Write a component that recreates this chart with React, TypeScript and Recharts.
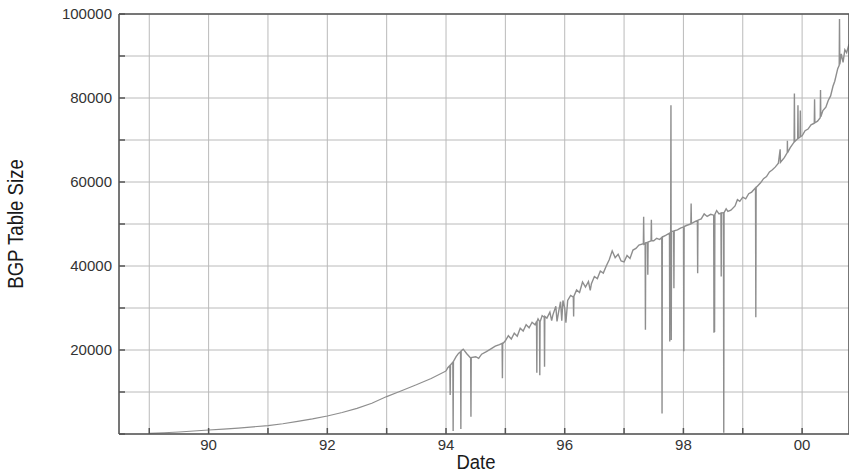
import React from 'react';
import { LineChart, Line, XAxis, YAxis, CartesianGrid } from 'recharts';

// date as fractional year, BGP table size (routes)
const dates = [
  1989.0, 1989.25, 1989.5, 1989.75, 1990.0, 1990.25, 1990.5, 1990.75, 1991.0, 1991.25, 1991.5, 1991.75,
  1992.0, 1992.25, 1992.5, 1992.75, 1993.0, 1993.25, 1993.5, 1993.75, 1994.0, 1994.03,
  1994.065, 1994.07, 1994.075, 1994.115, 1994.12, 1994.125, 1994.17, 1994.21, 1994.245, 1994.25, 1994.255,
  1994.29, 1994.35, 1994.415, 1994.42, 1994.425, 1994.5, 1994.55, 1994.6, 1994.68, 1994.75, 1994.83, 1994.9,
  1994.945, 1994.95, 1994.955, 1995.0, 1995.05, 1995.1, 1995.15, 1995.2, 1995.25, 1995.3, 1995.35, 1995.4,
  1995.45, 1995.5, 1995.525, 1995.53, 1995.535, 1995.55, 1995.575, 1995.58, 1995.585, 1995.62, 1995.655,
  1995.66, 1995.665, 1995.7, 1995.75, 1995.78, 1995.8, 1995.85, 1995.87, 1995.9, 1995.93, 1995.95, 1995.97,
  1996.0, 1996.02, 1996.05, 1996.1, 1996.145, 1996.15, 1996.155, 1996.2, 1996.25, 1996.3, 1996.35, 1996.4,
  1996.43, 1996.45, 1996.5, 1996.55, 1996.6, 1996.65, 1996.7, 1996.75, 1996.8, 1996.85, 1996.9, 1996.95,
  1997.0, 1997.05, 1997.1, 1997.15, 1997.2, 1997.25, 1997.325, 1997.33, 1997.335, 1997.355, 1997.36, 1997.365,
  1997.395, 1997.4, 1997.405, 1997.455, 1997.46, 1997.465, 1997.5, 1997.55, 1997.6, 1997.635, 1997.64, 1997.645,
  1997.7, 1997.765, 1997.77, 1997.775, 1997.785, 1997.79, 1997.795, 1997.8, 1997.835, 1997.84, 1997.845,
  1997.9, 1997.95, 1998.002, 1998.007, 1998.012, 1998.06, 1998.125, 1998.13, 1998.135, 1998.2, 1998.235,
  1998.24, 1998.245, 1998.3, 1998.35, 1998.4, 1998.46, 1998.51, 1998.515, 1998.52, 1998.525, 1998.53, 1998.56,
  1998.6, 1998.632, 1998.637, 1998.642, 1998.675, 1998.68, 1998.685, 1998.72, 1998.75, 1998.8, 1998.87,
  1998.91, 1998.95, 1999.0, 1999.05, 1999.1, 1999.15, 1999.215, 1999.22, 1999.225, 1999.3, 1999.35, 1999.4,
  1999.45, 1999.5, 1999.55, 1999.6, 1999.63, 1999.635, 1999.7, 1999.75, 1999.752, 1999.755, 1999.8, 1999.865,
  1999.87, 1999.875, 1999.925, 1999.93, 1999.935, 1999.965, 1999.97, 1999.975, 2000.0, 2000.05, 2000.1,
  2000.15, 2000.205, 2000.21, 2000.215, 2000.26, 2000.305, 2000.31, 2000.315, 2000.35, 2000.4, 2000.44,
  2000.48, 2000.52, 2000.55, 2000.6, 2000.625, 2000.63, 2000.635, 2000.66, 2000.69, 2000.72, 2000.75, 2000.79,
];

const tableSize = [
  150, 300, 480, 700, 950, 1150, 1400, 1700, 2000, 2450, 3000, 3600,
  4300, 5100, 6100, 7300, 8900, 10300, 11700, 13200, 15000, 15800,
  16300, 9300, 16400, 17100, 700, 17300, 18400, 19200, 19600, 1200, 19800,
  20200, 19100, 18100, 4100, 18200, 18400, 18000, 19000, 19600, 20200, 20900, 21300,
  21600, 13300, 21500, 22200, 23400, 22600, 24000, 23300, 25200, 24500, 26000, 25300,
  26600, 26000, 26800, 14600, 26900, 27400, 26800, 14000, 26700, 28200, 27800,
  16000, 28000, 27600, 29000, 27000, 28300, 30400, 26800, 29300, 31500, 27000, 31800,
  30000, 26500, 31800, 33000, 32600, 28000, 32800, 34300, 33700, 36200, 35000, 36300,
  34200, 35800, 37500, 37000, 38800, 38300, 40000, 41500, 43600, 42000, 42800, 41200,
  41000, 42500, 41800, 43800, 44200, 45000, 45300, 51700, 45200, 45400, 24800, 45500,
  45600, 37900, 45700, 46000, 51000, 46000, 46000, 46600, 46300, 46800, 4900, 46900,
  47300, 47800, 22000, 47900, 48000, 78300, 22400, 48200, 48300, 34700, 48400,
  48600, 49000, 49300, 19700, 49400, 49700, 50000, 54900, 50100, 50600, 50800,
  38300, 50900, 51200, 52400, 51800, 52300, 52100, 24100, 52200, 24300, 52300, 53200,
  52400, 52600, 37500, 52600, 52700, 300, 52700, 53600, 53000, 53300, 54300,
  55800, 55400, 56400, 56000, 57200, 57600, 58600, 27800, 58700, 59800, 60800, 61300,
  62400, 62900, 63600, 64500, 67800, 64700, 65800, 67000, 69800, 67000, 68200, 69500,
  81100, 69600, 70300, 78300, 70400, 70700, 77000, 70800, 71000, 72200, 72600,
  73600, 74000, 79700, 74100, 74500, 75300, 81900, 75500, 77000, 77800, 79400,
  80500, 82800, 84000, 87000, 87800, 98800, 88000, 90500, 88500, 91500, 90800, 92800,
];

const yearTicks = [1989, 1990, 1991, 1992, 1993, 1994, 1995, 1996, 1997, 1998, 1999, 2000];
const sizeTicks = [0, 10000, 20000, 30000, 40000, 50000, 60000, 70000, 80000, 90000, 100000];

// the pre-1994 part is a thin staircase, the later part a dense noisy band
const data = dates.map((t, i) => ({
  t,
  early: t <= 1994 ? tableSize[i] : null,
  late: t >= 1994 ? tableSize[i] : null,
}));

const axisColor = '#555555';
const gridColor = '#bababa';
const lineColor = '#8e8e8e';
const font = '"Liberation Sans", Arial, sans-serif';

const yearLabel = (v: number) => (v % 2 === 0 ? String(v % 100).padStart(2, '0') : '');
const sizeLabel = (v: number) => (v > 0 && v % 20000 === 0 ? String(v) : '');

const DateTitle = (props: any) => {
  const { viewBox } = props;
  if (!viewBox) return null;
  const cx = viewBox.x + viewBox.width / 2 - 8;
  return (
    <text transform={`translate(${cx},${viewBox.y + 35}) scale(1,1.13)`} textAnchor="middle"
      fontFamily={font} fontSize={18.5} fill="#1a1a1a">Date</text>
  );
};

const SizeTitle = (props: any) => {
  const { viewBox } = props;
  if (!viewBox) return null;
  const cy = viewBox.y + viewBox.height / 2;
  return (
    <text transform={`translate(23,${cy}) rotate(-90) scale(1,1.2)`} textAnchor="middle"
      fontFamily={font} fontSize={18.6} fill="#1a1a1a">BGP Table Size</text>
  );
};

export default function App() {
  return (
    <div style={{ position: 'absolute', left: 0, top: 0, width: 849, height: 473, overflow: 'hidden', background: '#fff' }}>
      <LineChart width={850} height={473} data={data} margin={{ top: 0, right: 0, bottom: 0, left: 0 }}>
        <CartesianGrid stroke={gridColor} strokeWidth={1} />
        <XAxis
          type="number"
          dataKey="t"
          domain={[1988.49, 2000.79]}
          allowDataOverflow
          ticks={yearTicks}
          interval={0}
          tickFormatter={yearLabel}
          height={39}
          tickSize={-6}
          tickMargin={11}
          stroke={axisColor}
          strokeWidth={1.5}
          tick={{ fill: '#333', fontSize: 15, fontFamily: font }}
          label={<DateTitle />}
        />
        <XAxis
          xAxisId="top"
          orientation="top"
          type="number"
          dataKey="t"
          domain={[1988.49, 2000.79]}
          allowDataOverflow
          ticks={yearTicks}
          interval={0}
          height={14}
          tickSize={-4}
          tick={false}
          stroke={axisColor}
          strokeWidth={1.5}
        />
        <YAxis
          type="number"
          domain={[0, 100000]}
          allowDataOverflow
          ticks={sizeTicks}
          interval={0}
          tickFormatter={sizeLabel}
          width={119}
          tickSize={-6}
          tickMargin={13}
          stroke={axisColor}
          strokeWidth={1.5}
          tick={{ fill: '#333', fontSize: 15, fontFamily: font }}
          label={<SizeTitle />}
        />
        <YAxis
          yAxisId="right"
          orientation="right"
          type="number"
          domain={[0, 100000]}
          ticks={sizeTicks}
          interval={0}
          width={1}
          tickSize={-4}
          tick={false}
          stroke={axisColor}
          strokeWidth={1.5}
        />
        <Line
          type="linear"
          dataKey="early"
          stroke={lineColor}
          strokeWidth={1.1}
          dot={false}
          connectNulls={false}
          isAnimationActive={false}
        />
        <Line
          type="linear"
          dataKey="late"
          stroke={lineColor}
          strokeWidth={1.4}
          dot={false}
          connectNulls={false}
          isAnimationActive={false}
        />
      </LineChart>
    </div>
  );
}
